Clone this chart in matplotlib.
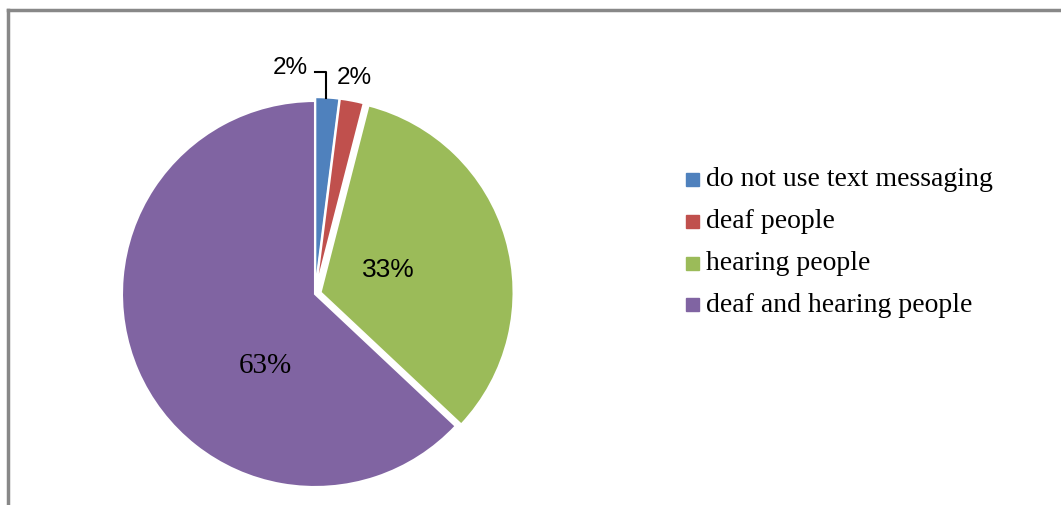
import matplotlib.pyplot as plt
from matplotlib.patches import Rectangle

categories = ['do not use text messaging', 'deaf people', 'hearing people',
              'deaf and hearing people']
values = [2, 2, 33, 63]
colors = ['#4f81bd', '#c0504d', '#9bbb59', '#8064a2']
explode = [0.02, 0.02, 0.03, 0.0]

W, H = 1061, 506
fig = plt.figure(figsize=(W / 100, H / 100), dpi=100)

# pie centre / radius in pixels (from the top-left)
cx, cy, r = 315, 295, 193
lim = 1.25
half = r * lim
ax = fig.add_axes([(cx - half) / W, (H - cy - half) / H, 2 * half / W, 2 * half / H])
wedges, _ = ax.pie(values, colors=colors, startangle=90, counterclock=False,
                   explode=explode, radius=1.0,
                   wedgeprops=dict(edgecolor='white', linewidth=1.5))
ax.set_xlim(-lim, lim)
ax.set_ylim(-lim, lim)
ax.set_aspect('equal')
ax.axis('off')


def px(x, y):
    # pixel -> data coords of the pie axes
    return (x - cx) / r, (cy - y) / r


labels = [f'{v}%' for v in values]
ax.text(*px(290, 68), labels[0], fontsize=17.5, family='Liberation Sans',
        ha='center', va='center')
ax.text(*px(354, 78), labels[1], fontsize=17.5, family='Liberation Sans',
        ha='center', va='center')
ax.text(*px(388, 270), labels[2], fontsize=19, family='Liberation Sans',
        ha='center', va='center')
ax.text(*px(265, 366), labels[3], fontsize=21, family='Liberation Serif',
        ha='center', va='center')
# leader line for the first label
lx = [px(315, 73)[0], px(326, 73)[0], px(326, 99)[0]]
ly = [px(315, 73)[1], px(326, 73)[1], px(326, 99)[1]]
ax.plot(lx, ly, color='black', lw=1.5, clip_on=False)

# legend
leg_y = [180, 222, 264, 305]
for cat, col, y in zip(categories, colors, leg_y):
    fig.patches.append(Rectangle((686 / W, (H - y - 7) / H), 13 / W, 13 / H,
                                 transform=fig.transFigure, color=col))
    fig.text(706 / W, (H - y) / H, cat, fontsize=20, family='Liberation Serif',
             va='center', ha='left')

# chart frame (top and left edges visible)
fig.add_artist(plt.Line2D([8 / W, 8 / W], [0, (H - 11) / H], color='#888888',
                          lw=2.5, transform=fig.transFigure))
fig.add_artist(plt.Line2D([8 / W, 1], [(H - 11) / H, (H - 11) / H], color='#888888',
                          lw=2.5, transform=fig.transFigure))

fig.savefig('out.png', dpi=100)
